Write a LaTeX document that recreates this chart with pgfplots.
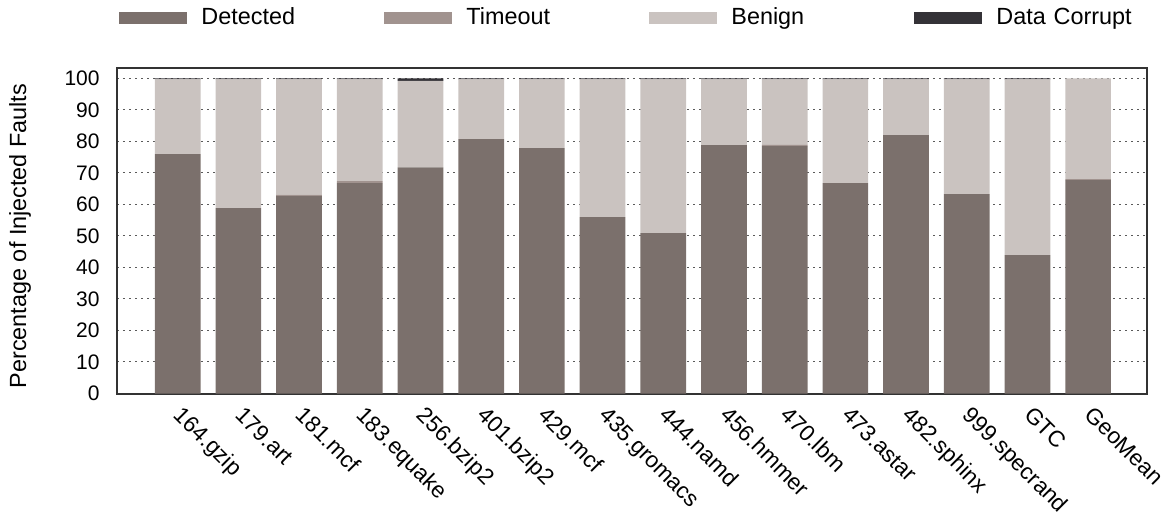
\documentclass[border=0pt]{standalone}
\usepackage{pgfplots}
\pgfplotsset{compat=1.18}
\usepackage{pgfplotstable}
\usepackage{fontspec}
\setmainfont{Liberation Sans}
\definecolor{cDet}{RGB}{123,112,108}
\definecolor{cTo}{RGB}{161,147,143}
\definecolor{cBen}{RGB}{202,195,192}
\definecolor{cDc}{RGB}{52,50,55}
\definecolor{cAx}{RGB}{51,51,51}
\definecolor{cGrid}{RGB}{90,90,90}
\pgfplotstableread{
x name det to ben dc
0 164.gzip 76.0 0.0 23.7 0.3
1 179.art 58.8 0.0 40.9 0.3
2 181.mcf 62.6 0.5 36.6 0.3
3 183.equake 66.8 0.6 32.3 0.3
4 256.bzip2 71.8 0.0 27.4 0.8
5 401.bzip2 80.7 0.0 19.0 0.3
6 429.mcf 77.9 0.0 21.8 0.3
7 435.gromacs 56.0 0.0 43.7 0.3
8 444.namd 50.9 0.0 48.8 0.3
9 456.hmmer 78.8 0.0 20.9 0.3
10 470.lbm 78.5 0.4 20.8 0.3
11 473.astar 66.8 0.0 32.9 0.3
12 482.sphinx 82.0 0.0 17.7 0.3
13 999.specrand 63.3 0.0 36.4 0.3
14 GTC 43.9 0.0 55.8 0.3
15 GeoMean 67.7 0.3 32.0 0.0
}\data
\begin{document}
\begin{tikzpicture}
\begin{axis}[
  set layers=standard,
  scale only axis,
  width=515pt, height=162.75pt,
  xmin=-1, xmax=15.97,
  ymin=0, ymax=103.3,
  ybar stacked,
  bar width=0.753,
  xtick={0,...,15},
  xticklabels from table={\data}{name},
  ytick={0,10,...,100},
  major tick length=0pt,
  ymajorgrids,
  grid style={cGrid, line width=0.5pt, dash pattern=on 1.2pt off 1.8pt},
  axis line style={cAx, line width=1pt, /pgfplots/on layer=axis foreground},
  /pgf/number format/assume math mode=true,
  tick label style={font=\fontsize{10.5}{12}\selectfont, text=black},
  yticklabel style={anchor=east, inner sep=0pt, xshift=-8.5pt},
  xticklabel style={font=\fontsize{11.3}{13}\selectfont, xshift=3.4pt, yshift=-5.6pt, rotate=-45, anchor=north west, inner sep=0pt},
  ylabel={Percentage of Injected Faults},
  ylabel style={font=\fontsize{11.7}{14}\selectfont, at={(axis description cs:-0.0942,0.484)}, anchor=center},
  legend columns=4,
  legend cell align=left,
  legend image code/.code={\fill[#1] (0pt,-3pt) rectangle (34pt,3pt);},
  legend style={at={(0,1)}, anchor=west, xshift=1pt, yshift=25pt, draw=none, fill=none, inner sep=0pt, column sep=0pt,
    font=\fontsize{11.7}{14}\selectfont,
    nodes={inner xsep=7pt, inner ysep=0pt, text width=84.5pt, align=left, anchor=west}},
]
\addplot[fill=cDet, draw=none] table[x=x, y=det] {\data};
\addlegendentry{Detected}
\addplot[fill=cTo, draw=none] table[x=x, y=to] {\data};
\addlegendentry{Timeout}
\addplot[fill=cBen, draw=none] table[x=x, y=ben] {\data};
\addlegendentry{Benign}
\addplot[fill=cDc, draw=none] table[x=x, y=dc] {\data};
\addlegendentry{Data Corrupt}
\end{axis}
\pgfresetboundingbox
\path[use as bounding box] (current axis.south west) ++(-58.5pt,-60.25pt) rectangle ++(582.5pt,257pt);
\end{tikzpicture}
\end{document}
